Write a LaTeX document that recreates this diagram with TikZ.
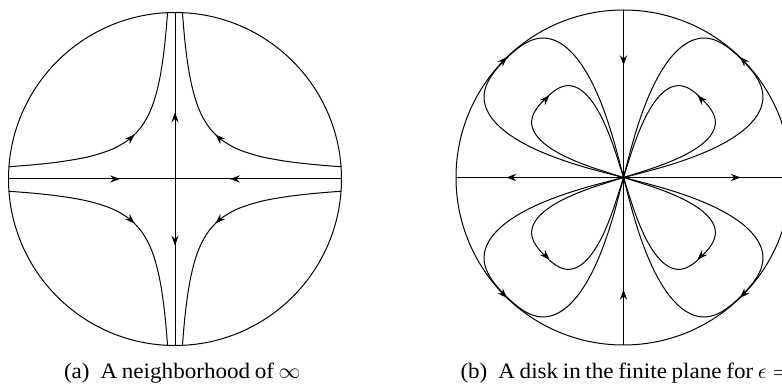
\documentclass[tikz,border=0pt]{standalone}
\usepackage{fontspec}
\setmainfont{Liberation Serif}[FakeStretch=1.05,WordSpace=0.8]
\usetikzlibrary{arrows.meta,decorations.markings}

\begin{document}
\begin{tikzpicture}[x=0.5pt,y=-0.5pt,line width=0.5pt,
	arrowhd/.style={-{Stealth[length=5pt,width=3.6pt,inset=1.7pt]}},
	flow/.style={postaction={decorate},decoration={markings,
		mark=at position #1 with {\arrow{Stealth[length=5pt,width=3.6pt,inset=1.7pt]}}}},
	captxt/.style={anchor=base west,inner sep=0pt,font=\fontsize{11}{13}\selectfont}]
	\clip (0,0) rectangle (782,384);
	\coordinate (cA) at (175,179);
	\coordinate (cB) at (623.5,177.5);
	
	% (a) neighborhood of infinity
	\draw (cA) circle[radius=166.5];
	\foreach \s in {1,-1}{
		\draw[shift={(cA)},xscale=\s,flow=0.67] (166.5,0) -- (0,0);
		\draw[shift={(cA)},yscale=\s,flow=0.4] (0,0) -- (0,166.5);
	}
	\foreach \sx/\sy in {1/1,-1/1,1/-1,-1/-1}{
		\begin{scope}[shift={(cA)},xscale=\sx,yscale=\sy]
			\draw plot[smooth,domain=0:1,samples=40,variable=\t]
			({exp(2.475+2.663*\t)-4.38},{1962*exp(-2.475-2.663*\t)+0.78});
			\draw[arrowhd] (44.2,40.9) -- (40.6,44.4);
		\end{scope}
	}
	
	% (b) disk in the finite plane
	\draw (cB) circle[radius=167.5];
	\foreach \s in {1,-1}{
		\draw[shift={(cB)},xscale=\s,flow=0.7] (0,0) -- (167.5,0);
		\draw[shift={(cB)},yscale=\s,flow=0.33] (0,167.5) -- (0,0);
	}
	\foreach \sx/\sy in {1/1,-1/1,1/-1,-1/-1}{
		\begin{scope}[shift={(cB)},xscale=\sx,yscale=\sy]
			\draw (0,0) -- plot[smooth,domain=14.05:75.95,samples=91,variable=\t]
			(\t:{167*(1-((\t-45)*(\t-45)/961)*((\t-45)*(\t-45)/961))^0.65}) -- (0,0);
			\draw (0,0) -- plot[smooth,domain=17.05:72.95,samples=81,variable=\t]
			(\t:{111*(1-((\t-45)*(\t-45)/784)*((\t-45)*(\t-45)/784))^0.55}) -- (0,0);
			\draw[arrowhd] (121.4,115.4) -- (116.4,120.4);
			\draw[arrowhd] (79,77) -- (74,82);
		\end{scope}
	}
	
	\node[captxt] (capa) at (63.5,379) {(a)\hspace{0.5em}A neighborhood of $\infty$};
	\node[captxt] (capb) at (460,379) {(b)\hspace{0.5em}A disk in the finite plane for $\epsilon=0$};
\end{tikzpicture}
\end{document}
